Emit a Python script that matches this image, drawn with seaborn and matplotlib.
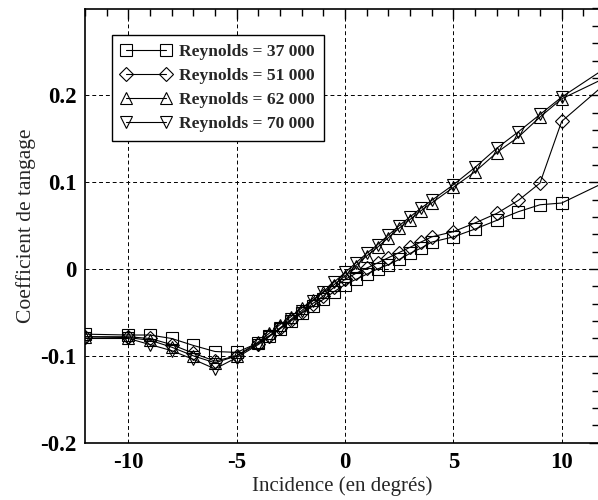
import matplotlib
matplotlib.use("Agg")
import matplotlib.pyplot as plt
import seaborn as sns
import pandas as pd
from matplotlib.ticker import MultipleLocator

incidence = [-12, -10, -9, -8, -7, -6, -5, -4, -3.5, -3, -2.5, -2, -1.5, -1, -0.5, 0,
             0.5, 1, 1.5, 2, 2.5, 3, 3.5, 4, 5, 6, 7, 8, 9, 10, 12]
re_37000 = [-0.075, -0.076, -0.076, -0.080, -0.088, -0.095, -0.096,
            -0.085, -0.077, -0.069, -0.060, -0.051, -0.043, -0.035, -0.026, -0.018,
            -0.012, -0.006, 0.000, 0.005, 0.011, 0.018, 0.024, 0.031,
            0.037, 0.046, 0.056, 0.066, 0.074, 0.076, 0.100]
re_51000 = [-0.078, -0.078, -0.080, -0.087, -0.097, -0.106, -0.100,
            -0.086, -0.077, -0.068, -0.059, -0.050, -0.040, -0.031, -0.021, -0.012,
            -0.005, 0.001, 0.007, 0.013, 0.019, 0.025, 0.031, 0.037,
            0.043, 0.053, 0.064, 0.079, 0.099, 0.170, 0.213]
re_62000 = [-0.078, -0.079, -0.082, -0.090, -0.100, -0.108, -0.100,
            -0.084, -0.074, -0.064, -0.055, -0.045, -0.036, -0.027, -0.018, -0.008,
            0.004, 0.015, 0.025, 0.036, 0.047, 0.057, 0.067, 0.076,
            0.094, 0.112, 0.134, 0.152, 0.175, 0.196, 0.220]
re_70000 = [-0.080, -0.080, -0.087, -0.094, -0.104, -0.115, -0.102,
            -0.087, -0.078, -0.068, -0.058, -0.048, -0.037, -0.026, -0.015, -0.004,
            0.007, 0.018, 0.028, 0.039, 0.050, 0.060, 0.070, 0.079,
            0.097, 0.117, 0.139, 0.158, 0.178, 0.198, 0.231]
labels = ["Reynolds = 37 000", "Reynolds = 51 000", "Reynolds = 62 000", "Reynolds = 70 000"]
series = [re_37000, re_51000, re_62000, re_70000]
markers = ["s", "D", "^", "v"]
msizes = [8.5, 7.5, 9, 9]
xticks = [-10, -5, 0, 5, 10]
yticks = [-0.2, -0.1, 0, 0.1, 0.2]
ytick_labels = ["-0.2", "-0.1", "0", "0.1", "0.2"]

sns.set_style("white")
plt.rcParams["font.family"] = ["Liberation Serif", "DejaVu Serif"]

fig = plt.figure(figsize=(5.98, 5.0), dpi=100)
ax = fig.add_axes([85 / 598, 57.3 / 500, 513.5 / 598, 434.2 / 500])

for vals, lab, m, ms in zip(series, labels, markers, msizes):
    df = pd.DataFrame({"x": incidence, "y": vals})
    sns.lineplot(data=df, x="x", y="y", ax=ax, color="black", linewidth=0.8,
                 marker=m, markersize=ms, markerfacecolor="none",
                 markeredgecolor="black", markeredgewidth=0.8, label=lab,
                 sort=False)

ax.set_xlim(-12, 11.7)
ax.set_ylim(-0.2, 0.3)
ax.set_xticks(xticks)
ax.set_xticklabels([str(t) for t in xticks])
ax.set_yticks(yticks)
ax.set_yticklabels(ytick_labels)
ax.xaxis.set_minor_locator(MultipleLocator(1))
ax.yaxis.set_minor_locator(MultipleLocator(0.02))
ax.tick_params(which="both", direction="in", top=True, right=True, colors="black")
ax.tick_params(which="major", length=7, width=1)
ax.tick_params(which="minor", length=5, width=1)
ax.tick_params(axis="x", which="major", pad=7)
ax.tick_params(axis="y", which="major", pad=6)
for lab in ax.get_xticklabels() + ax.get_yticklabels():
    lab.set_fontweight("bold")
    lab.set_fontsize(16.5)

ax.grid(True, which="major", color="black", linestyle=(0, (4, 3)), linewidth=0.7)
for sp in ax.spines.values():
    sp.set_color("black")
    sp.set_linewidth(1.2)

ax.set_xlabel("Incidence (en degrés)", fontsize=15, labelpad=2)
ax.set_ylabel("Coefficient de tangage", fontsize=15.5, labelpad=3)

leg = ax.legend(loc="upper left", bbox_to_anchor=(27 / 513.5, (434.2 - 26.5) / 434.2),
                borderaxespad=0, frameon=True, fancybox=False, shadow=False,
                prop={"family": "Liberation Serif", "weight": "bold", "size": 12.6},
                numpoints=2, handlelength=2.9, handletextpad=0.45, labelspacing=0.45,
                borderpad=0.5)
leg.get_frame().set_edgecolor("black")
leg.get_frame().set_linewidth(1.0)
leg.get_frame().set_facecolor("white")
leg.get_frame().set_alpha(1)

fig.savefig("out.png", dpi=100)
